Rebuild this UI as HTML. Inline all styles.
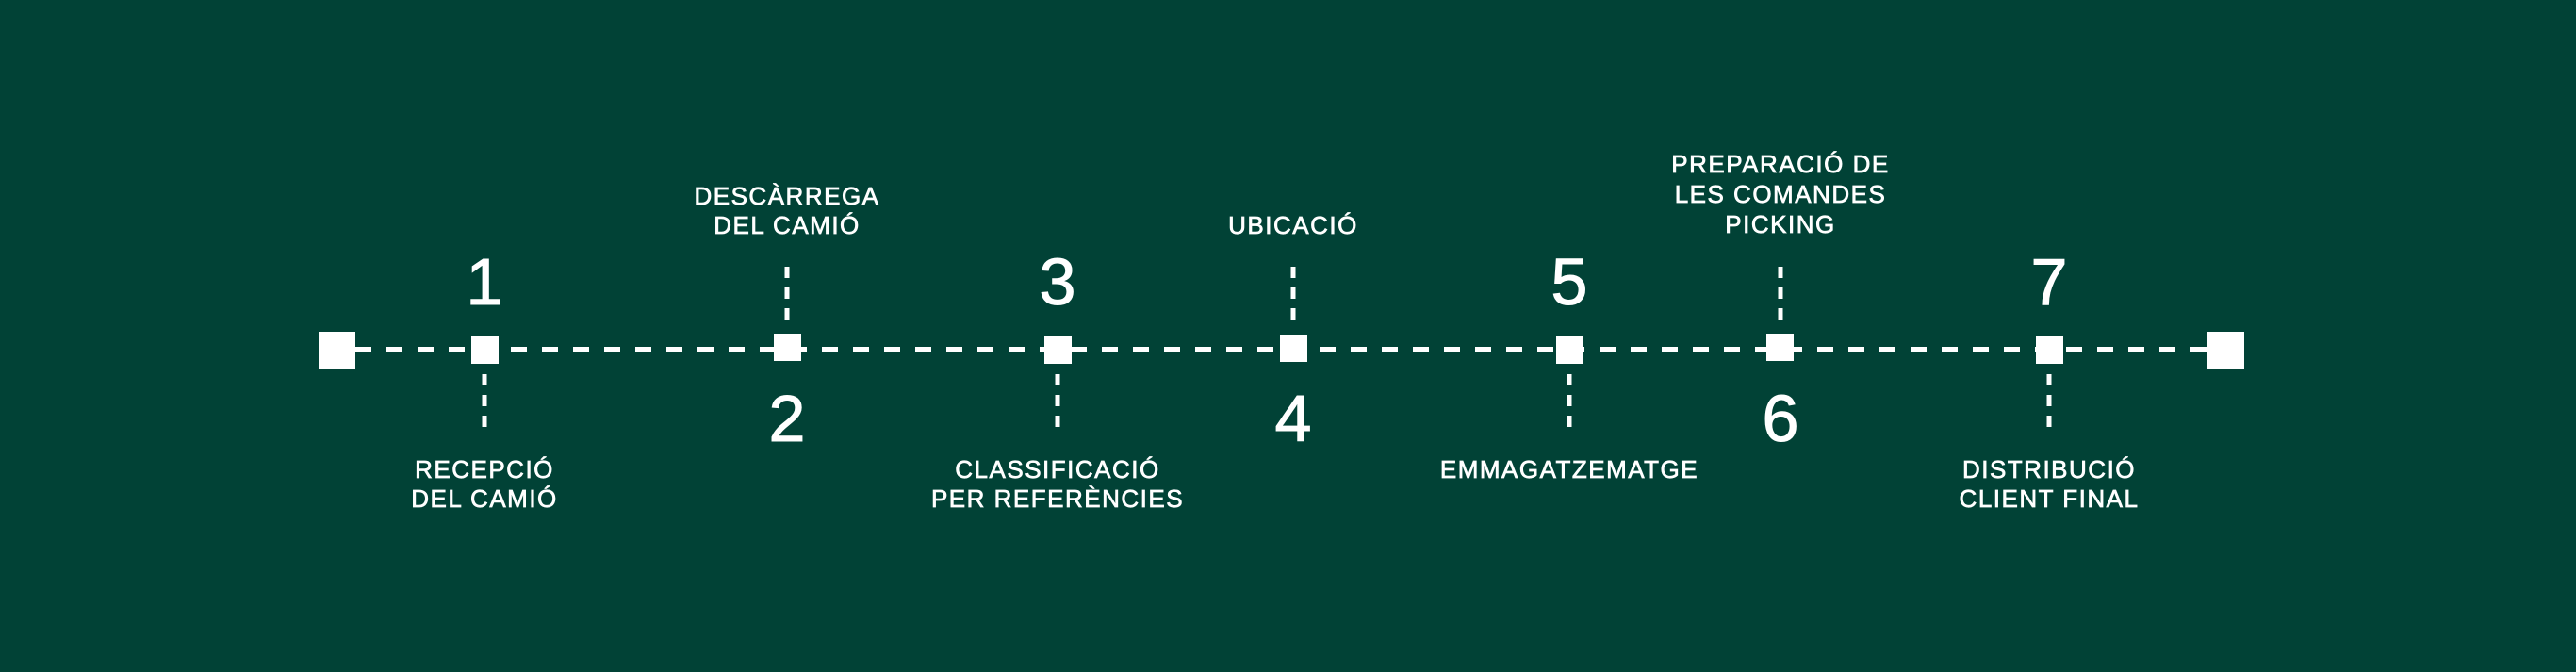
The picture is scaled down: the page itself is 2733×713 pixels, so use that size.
<!DOCTYPE html>
<html><head><meta charset="utf-8"><style>
html,body{margin:0;padding:0;background:#014236;}
svg{display:block}
.l{font-family:"Liberation Sans",sans-serif;font-size:26px;fill:#fff;stroke:#fff;stroke-width:0.7px;letter-spacing:1.5px;text-anchor:middle}
.n{font-family:"Liberation Sans",sans-serif;font-size:70px;fill:#fff;stroke:#fff;stroke-width:1px;text-anchor:middle}
</style></head><body>
<svg width="2733" height="713" viewBox="0 0 2733 713" xmlns="http://www.w3.org/2000/svg">
<rect width="2733" height="713" fill="#014236"/>
<line x1="377" y1="371" x2="2343" y2="371" stroke="#fff" stroke-width="6" stroke-dasharray="17 16"/>
<rect x="338" y="352" width="39" height="39" fill="#fff"/>
<rect x="2342" y="352" width="39" height="39" fill="#fff"/>
<g fill="#fff">
<rect x="500" y="357" width="29" height="29"/>
<rect x="821" y="354" width="29" height="29"/>
<rect x="1108" y="357" width="29" height="29"/>
<rect x="1358" y="355" width="29" height="29"/>
<rect x="1651" y="357" width="29" height="29"/>
<rect x="1874" y="354" width="29" height="29"/>
<rect x="2160" y="357" width="29" height="29"/>
</g>
<g stroke="#fff" stroke-width="5" stroke-dasharray="12 10">
<line x1="835" y1="283" x2="835" y2="343"/>
<line x1="1372" y1="283" x2="1372" y2="343"/>
<line x1="1889" y1="283" x2="1889" y2="343"/>
<line x1="514" y1="397" x2="514" y2="457"/>
<line x1="1122" y1="397" x2="1122" y2="457"/>
<line x1="1665" y1="397" x2="1665" y2="457"/>
<line x1="2174" y1="397" x2="2174" y2="457"/>
</g>
<text class="n" x="514" y="323">1</text>
<text class="n" x="1122" y="323">3</text>
<text class="n" x="1665" y="323">5</text>
<text class="n" x="2174" y="323">7</text>
<text class="n" x="835" y="468">2</text>
<text class="n" x="1372" y="468">4</text>
<text class="n" x="1889" y="468">6</text>
<text class="l" x="835" y="217">DESCÀRREGA</text>
<text class="l" x="835" y="248">DEL CAMIÓ</text>
<text class="l" x="1372" y="248">UBICACIÓ</text>
<text class="l" x="1889" y="183">PREPARACIÓ DE</text>
<text class="l" x="1889" y="215">LES COMANDES</text>
<text class="l" x="1889" y="247">PICKING</text>
<text class="l" x="514" y="507">RECEPCIÓ</text>
<text class="l" x="514" y="538">DEL CAMIÓ</text>
<text class="l" x="1122" y="507">CLASSIFICACIÓ</text>
<text class="l" x="1122" y="538">PER REFERÈNCIES</text>
<text class="l" x="1665" y="507">EMMAGATZEMATGE</text>
<text class="l" x="2174" y="507">DISTRIBUCIÓ</text>
<text class="l" x="2174" y="538">CLIENT FINAL</text>
</svg>
</body></html>
